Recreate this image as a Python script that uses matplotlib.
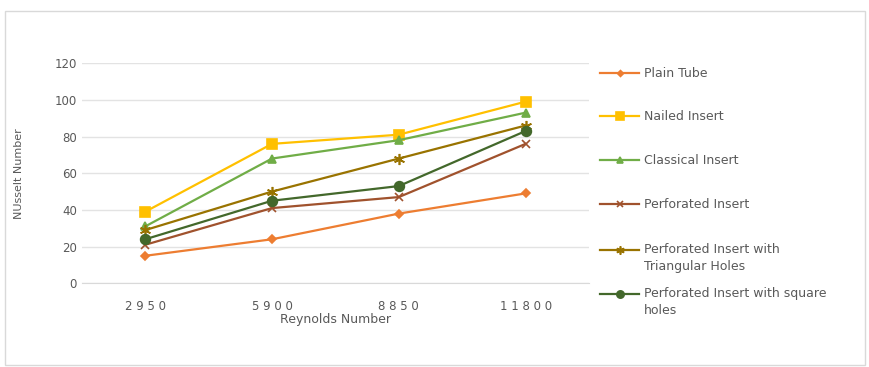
import matplotlib
matplotlib.use("Agg")
import matplotlib.pyplot as plt
from matplotlib.lines import Line2D
from matplotlib.patches import Rectangle

reynolds = ["2 9 5 0", "5 9 0 0", "8 8 5 0", "1 1 8 0 0"]
plain_tube = [15, 24, 38, 49]
nailed = [39, 76, 81, 99]
classical = [31, 68, 78, 93]
perforated = [21, 41, 47, 76]
triangular = [29, 50, 68, 86]
square = [24, 45, 53, 83]

series = [
    ("Plain Tube", plain_tube, "#ED7D31", "D", 4),
    ("Nailed Insert", nailed, "#FFC000", "s", 7),
    ("Classical Insert", classical, "#70AD47", "^", 6),
    ("Perforated Insert", perforated, "#A0522D", "x", 6),
    ("Perforated Insert with\nTriangular Holes", triangular, "#997300", (6, 2, 0), 8),
    ("Perforated Insert with square\nholes", square, "#43682B", "o", 7),
]

gray = "#595959"
fig = plt.figure(figsize=(8.7, 3.67), dpi=100)
fig.patches.append(Rectangle((0.006, 0.005), 0.988, 0.965, transform=fig.transFigure,
                             fill=False, edgecolor="#D9D9D9", lw=1))
ax = fig.add_axes([0.094, 0.228, 0.583, 0.6])

x = range(len(reynolds))
for name, vals, col, mk, ms in series:
    ax.plot(x, vals, color=col, marker=mk, markersize=ms, lw=1.6,
            markeredgecolor=col, markeredgewidth=1.2)

ax.set_xlim(-0.5, 3.5)
ax.set_ylim(0, 120)
ax.set_yticks(range(0, 121, 20))
ax.set_xticks(list(x))
ax.set_xticklabels(reynolds)
ax.yaxis.grid(True, color="#E3E3E3", lw=1)
ax.set_axisbelow(True)
for s in ["top", "right", "left"]:
    ax.spines[s].set_visible(False)
ax.spines["bottom"].set_color("#D9D9D9")
ax.tick_params(length=0, colors=gray, labelsize=8.5)
ax.tick_params(axis="x", pad=12)
ax.set_xlabel("Reynolds Number", color=gray, fontsize=9, labelpad=0)
ax.set_ylabel("NUsselt Number", color=gray, fontsize=8, labelpad=22)

# legend drawn by hand to keep the spacing of the original
ly = [0.80, 0.683, 0.563, 0.443, 0.32, 0.20]
for (name, vals, col, mk, ms), yy in zip(series, ly):
    fig.add_artist(Line2D([0.69, 0.735], [yy, yy], color=col, lw=1.6,
                          transform=fig.transFigure))
    fig.add_artist(Line2D([0.7125], [yy], color=col, marker=mk, markersize=ms * 0.75,
                          markeredgecolor=col, markeredgewidth=1.2, lw=0,
                          transform=fig.transFigure))
    lines = name.split("\n")
    fig.text(0.74, yy, lines[0], color=gray, fontsize=9, va="center")
    if len(lines) > 1:
        fig.text(0.74, yy - 0.045, lines[1], color=gray, fontsize=9, va="center")

fig.savefig("out.png", dpi=100)
